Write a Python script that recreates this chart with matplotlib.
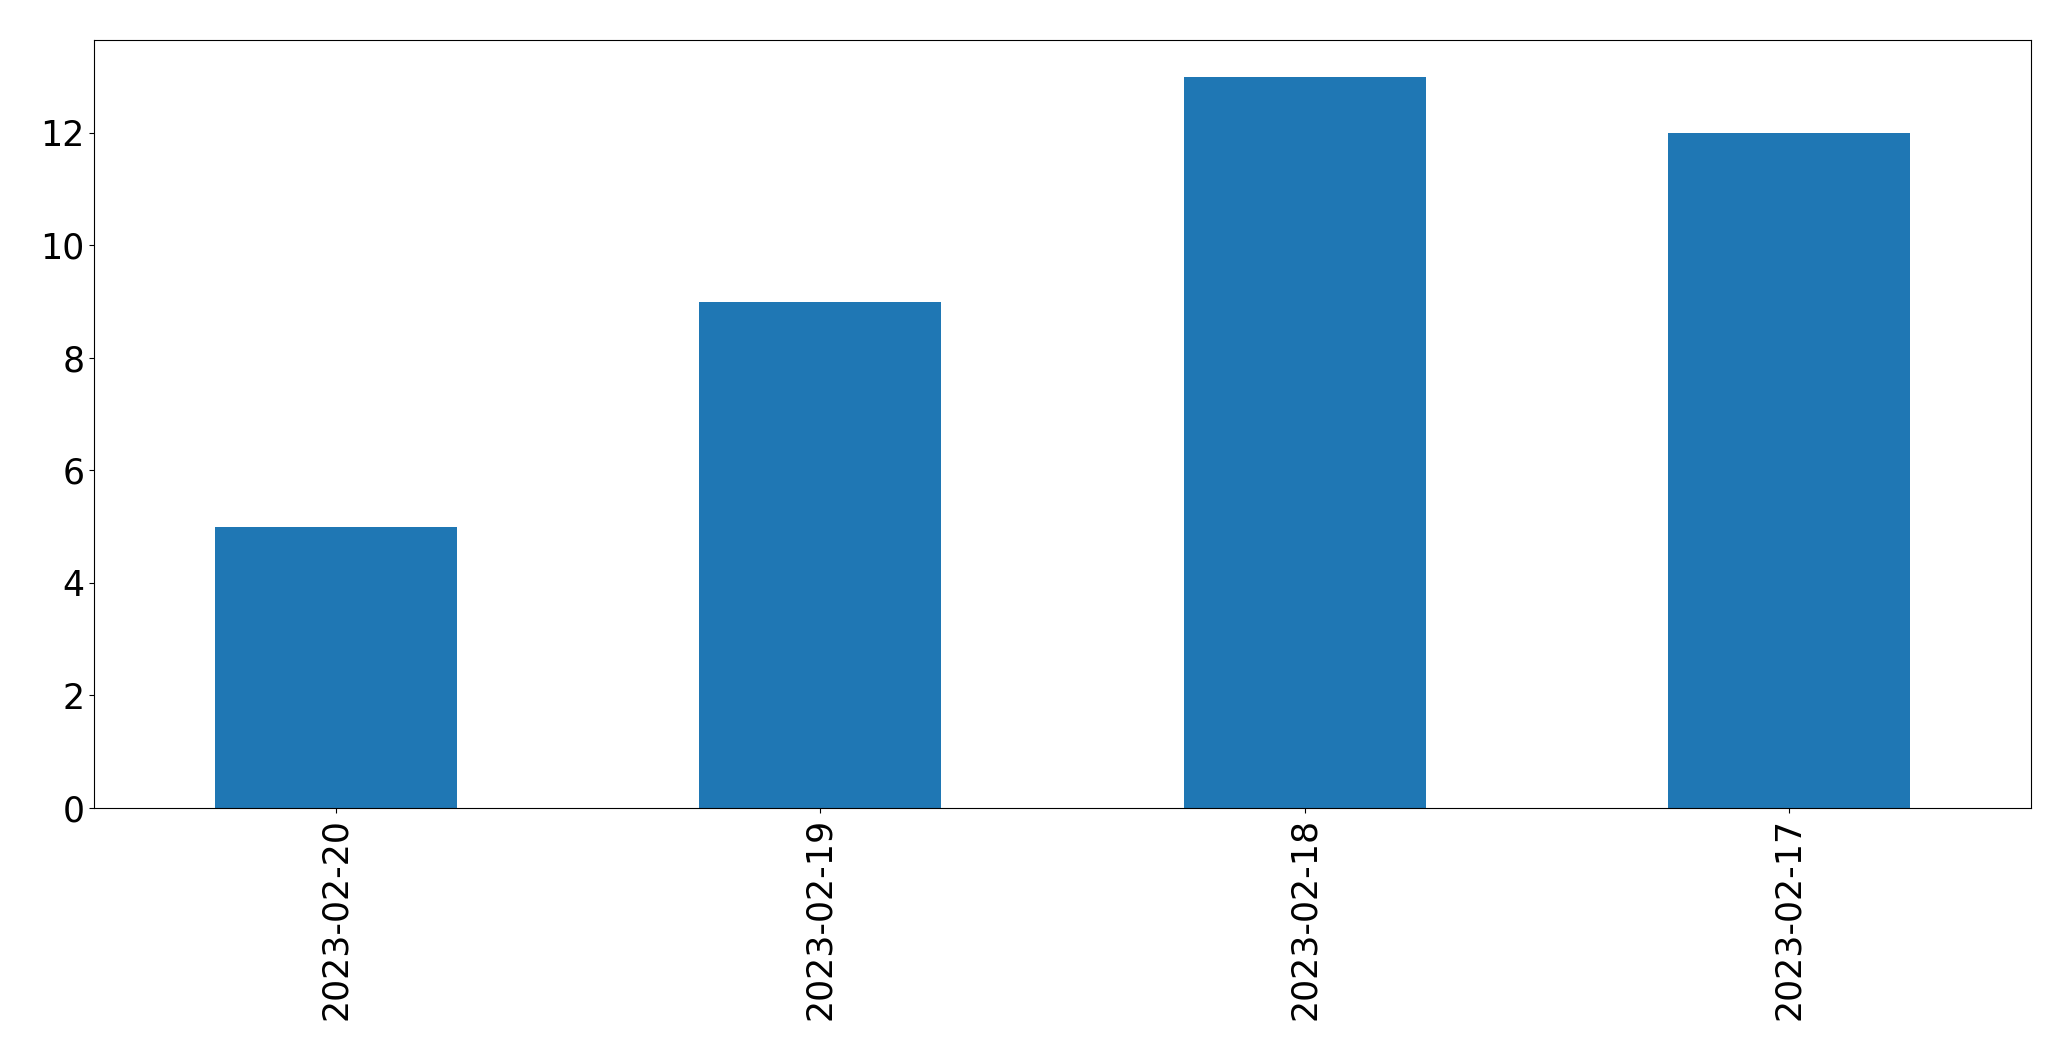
import matplotlib
matplotlib.use("Agg")
import matplotlib.pyplot as plt
import numpy as np

dates = ["2023-02-20", "2023-02-19", "2023-02-18", "2023-02-17"]
counts = [5, 9, 13, 12]

W, H = 2071, 1061
fig = plt.figure(figsize=(W / 100, H / 100), dpi=100)
ax = fig.add_axes([94 / W, 1 - 808 / H, (2031 - 94) / W, (808 - 40) / H])

x = np.arange(len(dates))
ax.bar(x, counts, width=0.5, color="#1f77b4")
ax.set_xlim(-0.5, len(dates) - 0.5)
ax.set_ylim(0, 13.65)
ax.set_xticks(x)
ax.set_xticklabels(dates, rotation=90)
ax.tick_params(labelsize=25)

fig.savefig("out.png", dpi=100)
